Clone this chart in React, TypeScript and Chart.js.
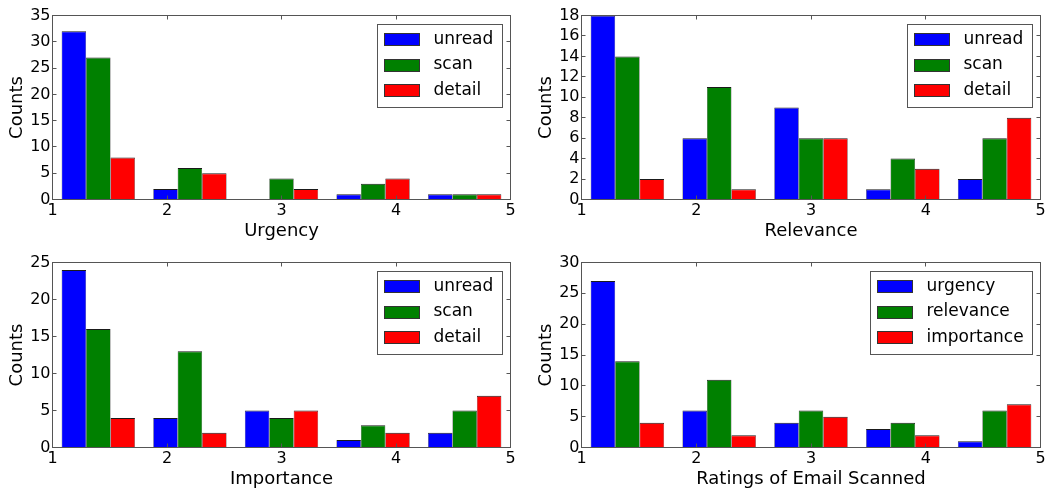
import React, { useEffect, useRef } from 'react';
import { Chart, registerables } from 'chart.js';

Chart.register(...registerables);
Chart.defaults.font.family = '"DejaVu Sans", sans-serif';
Chart.defaults.color = '#000';

// ---- data ----
const binCenters = [1.4, 2.2, 3.0, 3.8, 4.6];

const readingLabels = ['unread', 'scan', 'detail'];
const ratingLabels = ['urgency', 'relevance', 'importance'];
const yTitle = 'Counts';

const urgencyUnread = [32, 2, 0, 1, 1];
const urgencyScan = [27, 6, 4, 3, 1];
const urgencyDetail = [8, 5, 2, 4, 1];

const relevanceUnread = [18, 6, 9, 1, 2];
const relevanceScan = [14, 11, 6, 4, 6];
const relevanceDetail = [2, 1, 6, 3, 8];

const importanceUnread = [24, 4, 5, 1, 2];
const importanceScan = [16, 13, 4, 3, 5];
const importanceDetail = [4, 2, 5, 2, 7];

const scannedUrgency = [27, 6, 4, 3, 1];
const scannedRelevance = [14, 11, 6, 4, 6];
const scannedImportance = [4, 2, 5, 2, 7];

// ---- styles ----
const barColors = ['#0000ff', '#008000', '#ff0000'];
const barEdge = '#1a1a1a';
const frameColor = '#555555';

type Rect = { left: number; top: number; width: number; height: number };
type Area = { left: number; top: number; right: number; bottom: number };
type PanelSpec = {
  xTitle: string;
  labels: string[];
  series: number[][];
  yMax: number;
  yStep: number;
  box: Rect;
  area: Area;
};

const panels: PanelSpec[] = [
  {
    xTitle: 'Urgency',
    labels: readingLabels,
    series: [urgencyUnread, urgencyScan, urgencyDetail],
    yMax: 35,
    yStep: 5,
    box: { left: 0, top: 0, width: 526, height: 245 },
    area: { left: 52.5, top: 15.5, right: 510.5, bottom: 199.5 },
  },
  {
    xTitle: 'Relevance',
    labels: readingLabels,
    series: [relevanceUnread, relevanceScan, relevanceDetail],
    yMax: 18,
    yStep: 2,
    box: { left: 526, top: 0, width: 527, height: 245 },
    area: { left: 55.5, top: 15.5, right: 514.5, bottom: 199.5 },
  },
  {
    xTitle: 'Importance',
    labels: readingLabels,
    series: [importanceUnread, importanceScan, importanceDetail],
    yMax: 25,
    yStep: 5,
    box: { left: 0, top: 245, width: 526, height: 250 },
    area: { left: 52.5, top: 17.5, right: 510.5, bottom: 202.5 },
  },
  {
    xTitle: 'Ratings of Email Scanned',
    labels: ratingLabels,
    series: [scannedUrgency, scannedRelevance, scannedImportance],
    yMax: 30,
    yStep: 5,
    box: { left: 526, top: 245, width: 527, height: 250 },
    area: { left: 55.5, top: 17.5, right: 514.5, bottom: 202.5 },
  },
];

const framePlugin = {
  id: 'mplFrame',
  afterDatasetsDraw(chart: any) {
    const { ctx, chartArea: a, scales } = chart;
    const tl = 4;
    ctx.save();
    ctx.strokeStyle = frameColor;
    ctx.lineWidth = 1;
    ctx.beginPath();
    scales.x.ticks.forEach((t: any) => {
      const p = Math.floor(scales.x.getPixelForValue(t.value)) + 0.5;
      ctx.moveTo(p, a.bottom);
      ctx.lineTo(p, a.bottom - tl);
      ctx.moveTo(p, a.top);
      ctx.lineTo(p, a.top + tl);
    });
    scales.y.ticks.forEach((t: any) => {
      const p = Math.floor(scales.y.getPixelForValue(t.value)) + 0.5;
      ctx.moveTo(a.left, p);
      ctx.lineTo(a.left + tl, p);
      ctx.moveTo(a.right, p);
      ctx.lineTo(a.right - tl, p);
    });
    ctx.stroke();
    ctx.strokeRect(a.left, a.top, a.right - a.left, a.bottom - a.top);
    ctx.restore();
  },
  afterDraw(chart: any) {
    const { ctx, chartArea: a } = chart;
    const ds = chart.data.datasets;
    ctx.save();
    // y axis title
    ctx.font = '18px "DejaVu Sans", sans-serif';
    ctx.fillStyle = '#000000';
    ctx.textAlign = 'center';
    ctx.textBaseline = 'middle';
    ctx.translate(a.left - 35.2, (a.top + a.bottom) / 2);
    ctx.rotate(-Math.PI / 2);
    ctx.fillText(yTitle, 0, 0);
    ctx.restore();

    ctx.save();
    ctx.font = '17px "DejaVu Sans", sans-serif';
    const maxW = Math.max(...ds.map((d: any) => ctx.measureText(d.label).width));
    const w = Math.round(7 + 35 + 14 + maxW + 9);
    const h = 83;
    const x0 = Math.round(a.right - 8.5 - w) + 0.5;
    const y0 = Math.round(a.top + 8.5) + 0.5;
    ctx.fillStyle = '#ffffff';
    ctx.fillRect(x0, y0, w, h);
    ctx.strokeStyle = frameColor;
    ctx.lineWidth = 1;
    ctx.strokeRect(x0, y0, w, h);
    ds.forEach((d: any, i: number) => {
      const cy = y0 + 15 + i * 25.5;
      const sy = Math.round(cy - 6.5) + 0.5;
      ctx.fillStyle = d.backgroundColor;
      ctx.fillRect(x0 + 7, sy, 35, 12);
      ctx.strokeStyle = '#333333';
      ctx.strokeRect(x0 + 7, sy, 35, 12);
      ctx.fillStyle = '#000000';
      ctx.textBaseline = 'middle';
      ctx.textAlign = 'left';
      ctx.fillText(d.label, x0 + 7 + 35 + 14, cy);
    });
    ctx.restore();
  },
};

function Panel({ spec }: { spec: PanelSpec }) {
  const ref = useRef<HTMLCanvasElement>(null);
  useEffect(() => {
    const canvas = ref.current;
    if (!canvas) return;
    const { box, area } = spec;
    const chart = new Chart(canvas, {
      type: 'bar',
      data: {
        datasets: spec.series.map((vals, i) => ({
          label: spec.labels[i],
          data: vals.map((v, j) => ({ x: binCenters[j], y: v })),
          backgroundColor: barColors[i],
          borderColor: barEdge,
          borderWidth: { top: 1, left: 0.5, right: 0.5, bottom: 0 },
          categoryPercentage: 0.8,
          barPercentage: 1.0,
        })),
      },
      options: {
        responsive: false,
        animation: false,
        events: [],
        layout: {
          padding: { left: 0, top: area.top, right: box.width - area.right, bottom: 0 },
        },
        plugins: { legend: { display: false }, tooltip: { enabled: false } },
        scales: {
          x: {
            type: 'linear',
            min: 1,
            max: 5,
            offset: false,
            grid: { display: false, drawTicks: false, offset: false },
            border: { display: false },
            ticks: {
              stepSize: 1,
              autoSkip: false,
              maxRotation: 0,
              padding: 2,
              color: '#000',
              font: { size: 16 },
            },
            title: {
              display: true,
              text: spec.xTitle,
              color: '#000',
              font: { size: 18 },
              padding: { top: 0, bottom: box.height - area.bottom - 32.1 - 10.8 },
            },
            afterFit: (s: any) => {
              s.height = box.height - area.bottom;
            },
          },
          y: {
            type: 'linear',
            min: 0,
            max: spec.yMax,
            grid: { display: false, drawTicks: false },
            border: { display: false },
            ticks: {
              stepSize: spec.yStep,
              autoSkip: false,
              padding: 2,
              color: '#000',
              font: { size: 16 },
            },
            title: { display: false },
            afterFit: (s: any) => {
              s.width = area.left;
            },
          },
        },
      } as any,
      plugins: [framePlugin],
    });
    return () => chart.destroy();
  }, [spec]);
  return (
    <canvas
      ref={ref}
      width={spec.box.width}
      height={spec.box.height}
      style={{ position: 'absolute', left: spec.box.left, top: spec.box.top, width: spec.box.width, height: spec.box.height }}
    />
  );
}

export default function App() {
  return (
    <div style={{ position: 'fixed', left: 0, top: 0, width: 1053, height: 495, background: '#fff' }}>
      {panels.map((p, i) => (
        <Panel key={i} spec={p} />
      ))}
    </div>
  );
}
